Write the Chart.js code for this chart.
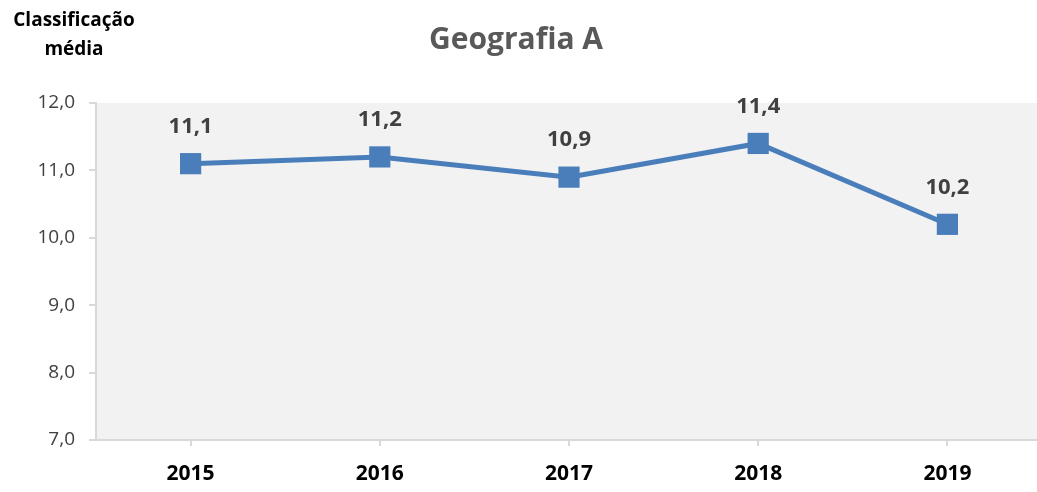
<!DOCTYPE html>
<html>
<head>
    <title>Geografia A</title>
    <style type="text/css">
        body {
            margin: 0;
            overflow: hidden;
            background: #ffffff;
        }

        #chart-container {
            width: 1045px;
            height: 492px;
        }
    </style>
    <script type="text/javascript" src="https://cdn.jsdelivr.net/npm/chart.js@4.4.0/dist/chart.umd.min.js"></script>
</head>
<body>

<div id="chart-container">
    <canvas id="graphCanvas" width="1045" height="492"></canvas>
</div>

<script>
    var anos = ['2015', '2016', '2017', '2018', '2019'];
    var medias = [11.1, 11.2, 10.9, 11.4, 10.2];
    var yMin = 7;
    var yMax = 12;
    var titulo = 'Geografia A';
    var tituloEixo = ['Classificação', 'média'];

    var FONT = "'Open Sans', 'Noto Sans', sans-serif";

    function virgula(v) {
        return v.toFixed(1).replace('.', ',');
    }

    // fundo cinzento, títulos e rótulos dos pontos
    var extras = {
        id: 'extras',
        beforeDraw: function (chart) {
            var a = chart.chartArea;
            var ctx = chart.ctx;
            ctx.save();
            ctx.fillStyle = '#f2f2f2';
            ctx.fillRect(a.left, a.top, chart.width - a.left, a.bottom - a.top);
            ctx.restore();
        },
        afterDraw: function (chart) {
            var ctx = chart.ctx;
            ctx.save();
            ctx.textAlign = 'center';
            ctx.textBaseline = 'middle';

            ctx.fillStyle = '#595959';
            ctx.font = 'bold 30px ' + FONT;
            ctx.fillText(titulo, 516, 40);

            ctx.fillStyle = '#000000';
            ctx.font = 'bold 19px ' + FONT;
            ctx.fillText(tituloEixo[0], 74, 21);
            ctx.fillText(tituloEixo[1], 74, 50);

            ctx.fillStyle = '#404040';
            ctx.font = 'bold 22px ' + FONT;
            var meta = chart.getDatasetMeta(0);
            meta.data.forEach(function (pt, i) {
                ctx.fillText(virgula(medias[i]), pt.x, pt.y - 37);
            });
            ctx.restore();
        }
    };

    var chartdata = {
        labels: anos,
        datasets: [
            {
                label: 'Classificação média',
                data: medias,
                borderColor: '#4a7ebb',
                backgroundColor: '#4a7ebb',
                borderWidth: 5,
                pointStyle: 'rect',
                pointRadius: 15,
                pointHoverRadius: 15,
                pointBorderWidth: 0,
                tension: 0
            }
        ]
    };

    var graphTarget = document.getElementById('graphCanvas');

    var lineGraph = new Chart(graphTarget, {
        type: 'line',
        data: chartdata,
        plugins: [extras],
        options: {
            responsive: false,
            animation: false,
            layout: {
                autoPadding: false,
                padding: {top: 103, right: 3, left: 0, bottom: 0}
            },
            plugins: {
                legend: {display: false},
                tooltip: {enabled: false},
                title: {display: false}
            },
            scales: {
                x: {
                    offset: true,
                    afterFit: function (s) {
                        s.height = 52;
                        s.paddingLeft = 0;
                        s.paddingRight = 0;
                    },
                    border: {color: '#d9d9d9', width: 2},
                    grid: {
                        offset: false,
                        drawOnChartArea: false,
                        color: '#d9d9d9',
                        tickLength: 6,
                        lineWidth: 2
                    },
                    ticks: {
                        color: '#000000',
                        padding: 15,
                        font: {family: FONT, size: 21, weight: 'bold'}
                    }
                },
                y: {
                    min: yMin,
                    max: yMax,
                    afterFit: function (s) { s.width = 96; },
                    border: {color: '#d9d9d9', width: 2},
                    grid: {
                        drawOnChartArea: false,
                        color: '#d9d9d9',
                        tickLength: 7,
                        lineWidth: 2
                    },
                    ticks: {
                        stepSize: 1,
                        color: '#404040',
                        padding: 14,
                        font: {family: FONT, size: 19},
                        callback: function (v) { return virgula(v); }
                    }
                }
            }
        }
    });
</script>

</body>
</html>
